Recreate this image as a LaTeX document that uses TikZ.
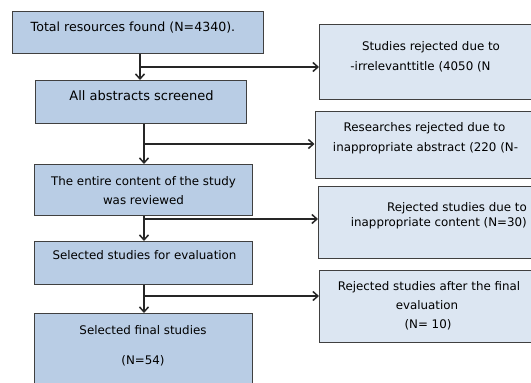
\documentclass[tikz,border=0pt]{standalone}
\usepackage{fontspec}
\setmainfont{DejaVu Sans}
\usetikzlibrary{arrows.meta}
\definecolor{leftfill}{HTML}{B9CDE5}
\definecolor{rightfill}{HTML}{DCE6F2}
\definecolor{edge}{HTML}{404040}
\tikzset{
  lbox/.style={draw=edge, line width=0.9pt, fill=leftfill, anchor=north west, inner sep=0pt},
  rbox/.style={draw=edge, line width=0.9pt, fill=rightfill, anchor=north west, inner sep=0pt},
  txt/.style={anchor=base, inner sep=0pt, text=black},
  big/.style={font=\fontsize{12.6}{14}\selectfont},
  mid/.style={font=\fontsize{13}{15}\selectfont},
  sm/.style={font=\fontsize{11.85}{13}\selectfont},
  arr/.style={draw=black!85, line width=1.6pt, -{Straight Barb[length=5pt,width=9pt,line width=1.5pt]}},
}
\begin{document}
\begin{tikzpicture}[x=1pt,y=-1pt]
\clip (0,0) rectangle (531,383);
\fill[white] (0,0) rectangle (531,383);
% left boxes
\node[lbox, minimum width=251pt, minimum height=42pt] (b1) at (12,11) {};
\node[lbox, minimum width=211.5pt, minimum height=43pt] (b2) at (34.5,80) {};
\node[lbox, minimum width=218pt, minimum height=51pt] (b3) at (34,164) {};
\node[lbox, minimum width=218pt, minimum height=43pt] (b4) at (34,241) {};
\node[lbox, minimum width=218pt, minimum height=75pt] (b5) at (34,313) {};
% right boxes
\node[rbox, minimum width=220pt, minimum height=75pt] (r1) at (319,24) {};
\node[rbox, minimum width=225pt, minimum height=67pt] (r2) at (314.5,111) {};
\node[rbox, minimum width=220pt, minimum height=72pt] (r3) at (318,186) {};
\node[rbox, minimum width=220pt, minimum height=72pt] (r4) at (319,270) {};
% left texts
\node[txt, big] (t1) at (133,31) {Total resources found (N=4340).};
\node[txt, mid] (t2) at (141.5,100) {All abstracts screened};
\node[txt, sm] (t3a) at (143.5,185) {The entire content of the study};
\node[txt, sm] (t3b) at (143.5,204) {was reviewed};
\node[txt, sm] (t4) at (144.5,259) {Selected studies for evaluation};
\node[txt, sm] (t5a) at (143,334) {Selected final studies};
\node[txt, sm] (t5b) at (143,364) {(N=54)};
% right texts
\node[txt, sm] (s1a) at (431,50) {Studies rejected due to};
\node[txt, sm] (s1b) at (420.5,70) {-irrelevanttitle (4050 (N};
\node[txt, sm] (s2a) at (424.5,131) {Researches rejected due to};
\node[txt, sm] (s2b) at (425.5,151) {inappropriate abstract (220 (N-};
\node[txt, sm, anchor=base east] (s3a) at (527,211) {Rejected studies due to};
\node[txt, sm, anchor=base east] (s3b) at (527,226) {inappropriate content (N=30)};
\node[txt, sm] (s4a) at (429,290) {Rejected studies after the final};
\node[txt, sm] (s4b) at (427,309) {evaluation};
\node[txt, sm] (s4c) at (428,328) {(N= 10)};
% junctions
\coordinate (j1) at (140,67);
\coordinate (j2) at (144,144);
\coordinate (j3) at (144,219);
\coordinate (j4) at (144,296);
% connectors
\draw[arr] (b1.south -| j1) -- (b2.north -| j1);
\draw[arr] (j1) -- (r1.west |- j1);
\draw[arr] (b2.south -| j2) -- (b3.north -| j2);
\draw[arr] (j2) -- (r2.west |- j2);
\draw[arr] (b3.south -| j3) -- (b4.north -| j3);
\draw[arr] (j3) -- (r3.west |- j3);
\draw[arr] (b4.south -| j4) -- (b5.north -| j4);
\draw[arr] (j4) -- (r4.west |- j4);
\end{tikzpicture}
\end{document}
